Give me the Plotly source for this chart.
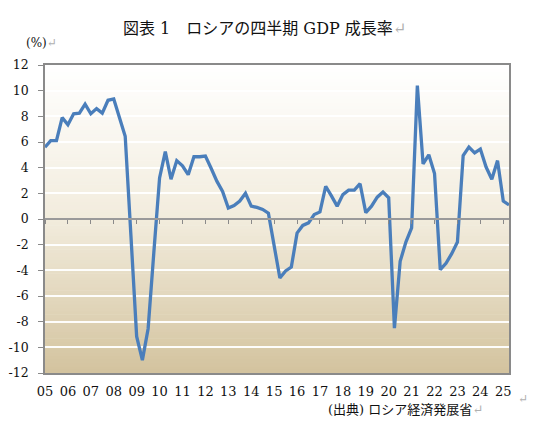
import plotly.graph_objects as go

# Quarterly GDP growth (%), 2005Q1 .. 2025Q2
gdp_growth = [
    5.6, 6.1, 6.1, 7.9,      # 2005
    7.35, 8.2, 8.25, 8.95,   # 2006
    8.2, 8.6, 8.25, 9.25,    # 2007
    9.35, 7.9, 6.45, -1.3,   # 2008
    -9.15, -11.0, -8.55, -2.6,  # 2009
    3.2, 5.25, 3.1, 4.55,    # 2010
    4.15, 3.45, 4.85, 4.85,  # 2011
    4.9, 3.95, 2.95, 2.15,   # 2012
    0.85, 1.05, 1.4, 2.0,    # 2013
    1.0, 0.9, 0.75, 0.45,    # 2014
    -2.1, -4.6, -4.05, -3.75,  # 2015
    -1.1, -0.5, -0.3, 0.35,  # 2016
    0.55, 2.55, 1.8, 1.0,    # 2017
    1.9, 2.25, 2.25, 2.75,   # 2018
    0.5, 1.0, 1.7, 2.1,      # 2019
    1.65, -8.5, -3.3, -1.8,  # 2020
    -0.7, 10.4, 4.3, 5.0,    # 2021
    3.55, -3.95, -3.45, -2.7,  # 2022
    -1.8, 4.95, 5.6, 5.15,   # 2023
    5.45, 4.05, 3.1, 4.55,   # 2024
    1.4, 1.1,                # 2025
]
year_labels = ["05", "06", "07", "08", "09", "10", "11", "12", "13", "14", "15",
               "16", "17", "18", "19", "20", "21", "22", "23", "24", "25"]
y_ticks = [-12, -10, -8, -6, -4, -2, 0, 2, 4, 6, 8, 10, 12]
y_labels = [str(v) for v in y_ticks]  # plain hyphen minus as in the source

quarters = list(range(len(gdp_growth)))
year_ticks = [4 * k for k in range(len(year_labels))]

SERIF = "DejaVu Serif, Liberation Serif, serif"
JP = "DejaVu Serif, Noto Sans CJK JP, serif"
GREY_MARK = "<span style='color:#B0B0B0'>↵</span>"

fig = go.Figure()

# GDP line
fig.add_trace(go.Scatter(
    x=quarters, y=gdp_growth, mode="lines",
    line=dict(color="#4A7EBB", width=3.3),
    hoverinfo="skip", showlegend=False,
))
# invisible trace to materialise the zero-line axis
fig.add_trace(go.Scatter(
    x=[quarters[0], quarters[-1]], y=[None, None], xaxis="x2", yaxis="y",
    mode="lines", hoverinfo="skip", showlegend=False,
))

# gradient plot background (bands in axis-domain coordinates)
n_bands = 90
top = (255, 255, 255)
mid = (242, 236, 221)
bot = (211, 195, 158)
shapes = []
for i in range(n_bands):
    f0 = i / n_bands
    f1 = (i + 1) / n_bands
    fc = (f0 + f1) / 2  # 0 bottom, 1 top
    if fc < 0.5:
        t = fc / 0.5
        c = [bot[j] + (mid[j] - bot[j]) * t for j in range(3)]
    else:
        t = (fc - 0.5) / 0.5
        c = [mid[j] + (top[j] - mid[j]) * t for j in range(3)]
    col = "rgb(%d,%d,%d)" % tuple(int(round(v)) for v in c)
    shapes.append(dict(type="rect", xref="x domain", yref="y domain",
                       x0=0, x1=1, y0=f0, y1=f1 + 0.002, layer="below",
                       line=dict(width=0), fillcolor=col))

# the page body adds an 8px margin, so the figure is 8px smaller and margins shifted
fig.update_layout(
    width=527, height=440,
    margin=dict(l=37, r=26, t=57, b=75, autoexpand=False),
    paper_bgcolor="white", plot_bgcolor="white",
    shapes=shapes,
    xaxis=dict(
        range=[quarters[0], quarters[-1]],
        tickvals=year_ticks, ticktext=year_labels,
        ticks="", showgrid=False, zeroline=False, automargin=False,
        showline=True, mirror=True, linecolor="#8A8A8A", linewidth=1.5,
        tickfont=dict(family=SERIF, size=13, color="#111111"),
        ticklabelstandoff=6,
    ),
    xaxis2=dict(
        overlaying="x", anchor="free", position=0.5,
        range=[quarters[0], quarters[-1]], automargin=False,
        tickvals=year_ticks, ticks="outside", ticklen=4, tickwidth=1,
        tickcolor="#8A8A8A", showticklabels=False,
        showgrid=False, zeroline=False,
        showline=True, linecolor="#9A9A9A", linewidth=1.5,
    ),
    yaxis=dict(
        range=[-12, 12], tickvals=y_ticks, ticktext=y_labels,
        ticks="outside", ticklen=5, tickcolor="#8A8A8A",
        showgrid=True, gridcolor="rgba(255,255,255,0.95)", gridwidth=1.5,
        zeroline=False, automargin=False,
        showline=True, mirror=True, linecolor="#8A8A8A", linewidth=1.5,
        tickfont=dict(family=SERIF, size=12.5, color="#111111"),
        ticklabelstandoff=7,
    ),
    annotations=[
        dict(text="図表 1　ロシアの四半期 GDP 成長率" + GREY_MARK,
             xref="paper", yref="paper", x=0.474, y=1.12,
             xanchor="center", yanchor="middle", showarrow=False,
             font=dict(family=JP, size=16, color="#111111")),
        dict(text="(%)" + GREY_MARK,
             xref="paper", yref="paper", x=-0.045, y=1.07,
             xanchor="left", yanchor="middle", showarrow=False,
             font=dict(family=SERIF, size=12, color="#111111")),
        dict(text="(出典) ロシア経済発展省" + GREY_MARK,
             xref="paper", yref="paper", x=0.605, y=-0.12,
             xanchor="left", yanchor="middle", showarrow=False,
             font=dict(family=JP, size=13, color="#111111")),
        dict(text=GREY_MARK,
             xref="paper", yref="paper", x=1.015, y=-0.085,
             xanchor="left", yanchor="middle", showarrow=False,
             font=dict(family=SERIF, size=12)),
    ],
)

fig.write_html("out.html")
